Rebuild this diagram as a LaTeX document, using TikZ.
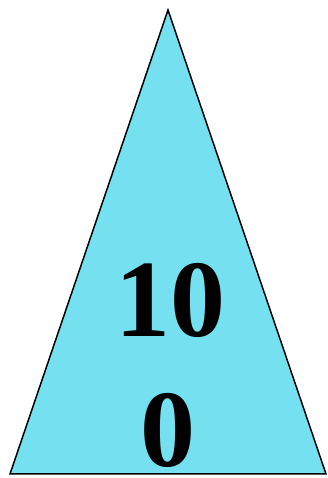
\documentclass[tikz,border=0pt]{standalone}
\usepackage{fontspec}
\setmainfont{Liberation Serif}
\definecolor{conefill}{HTML}{74E0F0}
\begin{document}
\begin{tikzpicture}[
    x=1pt, y=1pt,
    cone/.style={draw=black, fill=conefill, line width=1.5pt, line join=miter},
    digits/.style={font=\fontsize{110}{130}\selectfont\bfseries, inner sep=0pt, anchor=base},
]
\useasboundingbox (0,0) rectangle (328,478);
\coordinate (apex) at (168,468);
\coordinate (left) at (10,4);
\coordinate (right) at (326,4);
\draw[cone] (apex) -- (right) -- (left) -- cycle;
\node[digits] (upper) at (170,141) {10};
\node[digits] (lower) at (168,11) {0};
\end{tikzpicture}
\end{document}
